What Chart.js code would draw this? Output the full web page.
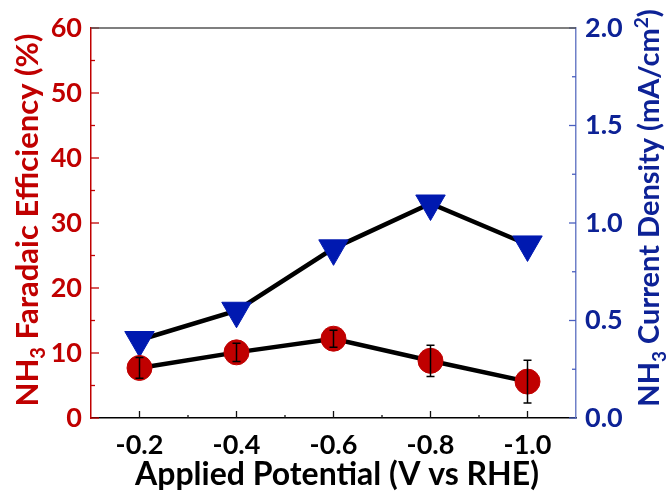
<!DOCTYPE html>
<html>
<head>
<meta charset="utf-8">
<script src="https://cdn.jsdelivr.net/npm/chart.js@4.4.1/dist/chart.umd.min.js"></script>
<style>
  html, body { margin: 0; padding: 0; background: #fff; }
  #wrap { width: 670px; height: 492px; }
</style>
</head>
<body>
<div id="wrap"><canvas id="chart" width="670" height="492"></canvas></div>
<script>
const potentials = [-0.2, -0.4, -0.6, -0.8, -1.0];
const faradaicEff = [7.7, 10.1, 12.2, 8.8, 5.6];
const faradaicErr = [1.6, 1.4, 1.3, 2.4, 3.3];
const currentDensity = [0.40, 0.55, 0.87, 1.10, 0.89];
const xTicks = [-0.2, -0.4, -0.6, -0.8, -1.0];
const xMinor = [-0.3, -0.5, -0.7, -0.9];
const feTicks = [0, 10, 20, 30, 40, 50, 60];
const feMinor = [5, 15, 25, 35, 45, 55];
const cdTicks = [0, 0.5, 1.0, 1.5, 2.0];
const cdMinor = [0.25, 0.75, 1.25, 1.75];

const RED = "#c00000";
const BLUE = "#0019b0";
const NAVY = "#0d2296";
const FONT = "Lato";

// inward tick marks, minor ticks shorter
const tickPlugin = {
  id: "inwardTicks",
  afterDraw(chart) {
    const { ctx, chartArea: a, scales } = chart;
    ctx.save();
    ctx.lineWidth = 1.3;
    // x axis
    ctx.strokeStyle = "#111";
    xTicks.concat(xMinor).forEach((v) => {
      const x = scales.x.getPixelForValue(v);
      const len = xMinor.includes(v) ? 3 : 7;
      ctx.beginPath();
      ctx.moveTo(x, a.bottom);
      ctx.lineTo(x, a.bottom - len);
      ctx.stroke();
    });
    // left axis
    ctx.strokeStyle = RED;
    feTicks.concat(feMinor).forEach((v) => {
      const y = scales.yFE.getPixelForValue(v);
      const len = feMinor.includes(v) ? 4 : 8;
      ctx.beginPath();
      ctx.moveTo(a.left, y);
      ctx.lineTo(a.left + len, y);
      ctx.stroke();
    });
    // right axis
    ctx.strokeStyle = "#4a5fbf";
    cdTicks.concat(cdMinor).forEach((v) => {
      const y = scales.yCD.getPixelForValue(v);
      const len = cdMinor.includes(v) ? 4 : 7;
      ctx.beginPath();
      ctx.moveTo(a.right, y);
      ctx.lineTo(a.right - len, y);
      ctx.stroke();
    });
    // top frame
    ctx.strokeStyle = "#555";
    ctx.beginPath();
    ctx.moveTo(a.left, a.top);
    ctx.lineTo(a.right, a.top);
    ctx.stroke();
    ctx.restore();
  },
};

const errorBarPlugin = {
  id: "errorBars",
  afterDatasetsDraw(chart) {
    const { ctx, scales } = chart;
    ctx.save();
    ctx.strokeStyle = "#000";
    ctx.lineWidth = 1.5;
    potentials.forEach((p, i) => {
      const x = scales.x.getPixelForValue(p);
      const yHi = scales.yFE.getPixelForValue(faradaicEff[i] + faradaicErr[i]);
      const yLo = scales.yFE.getPixelForValue(faradaicEff[i] - faradaicErr[i]);
      ctx.beginPath();
      ctx.moveTo(x, yHi);
      ctx.lineTo(x, yLo);
      ctx.moveTo(x - 4, yHi);
      ctx.lineTo(x + 4, yHi);
      ctx.moveTo(x - 4, yLo);
      ctx.lineTo(x + 4, yLo);
      ctx.stroke();
    });
    ctx.restore();
  },
};

// draws a run of [text, size, shift] pieces centred on 0
function drawRuns(ctx, runs) {
  let total = 0;
  runs.forEach((r) => {
    ctx.font = "bold " + r[1] + "px " + FONT;
    total += ctx.measureText(r[0]).width;
  });
  let x = -total / 2;
  runs.forEach((r) => {
    ctx.font = "bold " + r[1] + "px " + FONT;
    ctx.fillText(r[0], x, r[2]);
    x += ctx.measureText(r[0]).width;
  });
}

const titlePlugin = {
  id: "axisTitles",
  afterDraw(chart) {
    const { ctx } = chart;
    ctx.save();
    ctx.textBaseline = "alphabetic";
    ctx.textAlign = "left";
    // left
    ctx.save();
    ctx.fillStyle = RED;
    ctx.translate(38, 220);
    ctx.rotate(-Math.PI / 2);
    drawRuns(ctx, [["NH", 31, 0], ["3", 20, 7], [" Faradaic Efficiency (%)", 31, 0]]);
    ctx.restore();
    // right
    ctx.save();
    ctx.fillStyle = NAVY;
    ctx.translate(659, 208);
    ctx.rotate(-Math.PI / 2);
    drawRuns(ctx, [["NH", 29, 0], ["3", 19, 7], [" Current Density (mA/cm", 29, 0], ["2", 19, -11], [")", 29, 0]]);
    ctx.restore();
    // bottom
    ctx.fillStyle = "#000";
    ctx.translate(337, 485);
    drawRuns(ctx, [["Applied Potential (V vs RHE)", 32, 0]]);
    ctx.restore();
  },
};

new Chart(document.getElementById("chart"), {
  type: "line",
  data: {
    datasets: [
      {
        label: "Faradaic efficiency",
        data: potentials.map((p, i) => ({ x: p, y: faradaicEff[i] })),
        yAxisID: "yFE",
        borderColor: "#000",
        borderWidth: 4.5,
        pointStyle: "circle",
        pointRadius: 12.5,
        pointBackgroundColor: RED,
        pointBorderColor: RED,
        pointBorderWidth: 1,
      },
      {
        label: "Current density",
        data: potentials.map((p, i) => ({ x: p, y: currentDensity[i] })),
        yAxisID: "yCD",
        borderColor: "#000",
        borderWidth: 4.5,
        pointStyle: "triangle",
        rotation: 180,
        pointRadius: 17,
        pointBackgroundColor: BLUE,
        pointBorderColor: BLUE,
        pointBorderWidth: 1,
      },
    ],
  },
  options: {
    responsive: false,
    animation: false,
    layout: { padding: { top: 28, left: 0, right: 0, bottom: 0 } },
    plugins: {
      legend: { display: false },
      tooltip: { enabled: false },
    },
    scales: {
      x: {
        type: "linear",
        reverse: true,
        min: -1.1,
        max: -0.1,
        afterBuildTicks: (s) => { s.ticks = xTicks.map((v) => ({ value: v })); },
        afterFit: (s) => { s.height = 74; },
        grid: { display: false, drawTicks: false },
        border: { display: true, color: "#000", width: 1.5 },
        ticks: {
          color: "#000",
          padding: 11,
          maxRotation: 0,
          font: { family: FONT, weight: "bold", size: 27 },
          callback: (v) => Number(v).toFixed(1),
        },
      },
      yFE: {
        position: "left",
        min: 0,
        max: 60,
        afterBuildTicks: (s) => { s.ticks = feTicks.map((v) => ({ value: v })); },
        afterFit: (s) => { s.width = 91; },
        grid: { display: false, drawTicks: false },
        border: { display: true, color: RED, width: 1.5 },
        ticks: {
          color: RED,
          padding: 9,
          font: { family: FONT, weight: "bold", size: 27 },
        },
      },
      yCD: {
        position: "right",
        min: 0,
        max: 2,
        afterBuildTicks: (s) => { s.ticks = cdTicks.map((v) => ({ value: v })); },
        afterFit: (s) => { s.width = 94; },
        grid: { display: false, drawTicks: false },
        border: { display: true, color: "#6f80c8", width: 1.5 },
        ticks: {
          color: NAVY,
          padding: 9,
          font: { family: FONT, weight: "bold", size: 27 },
          callback: (v) => Number(v).toFixed(1),
        },
      },
    },
  },
  plugins: [tickPlugin, errorBarPlugin, titlePlugin],
});
</script>
</body>
</html>
